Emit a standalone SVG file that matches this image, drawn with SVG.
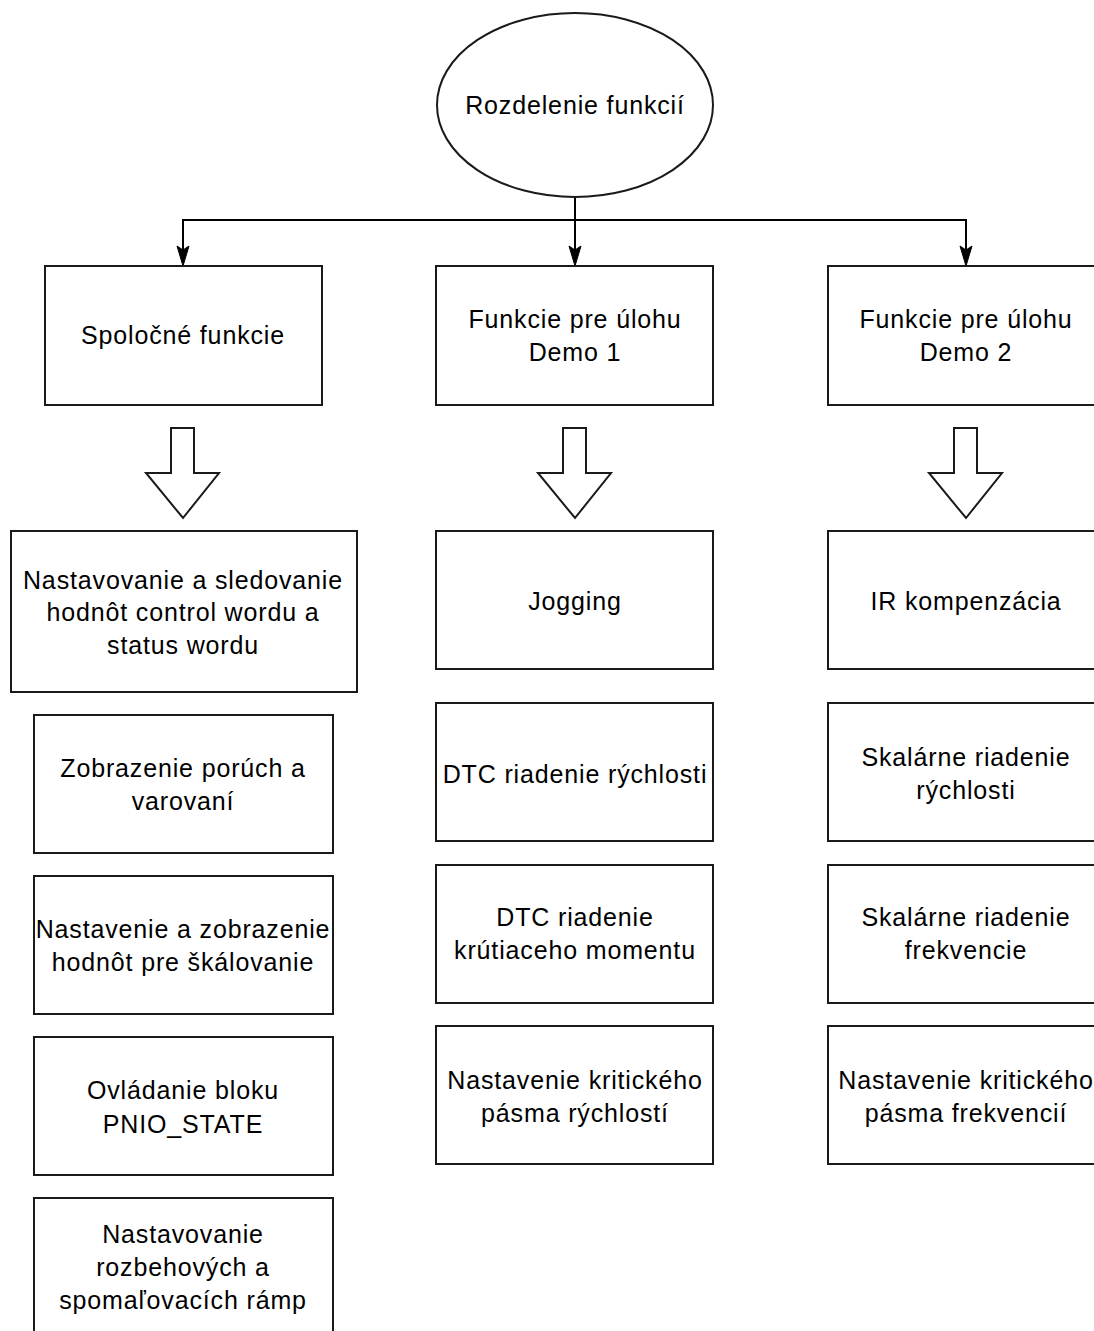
<svg xmlns="http://www.w3.org/2000/svg" width="1094" height="1331" viewBox="0 0 1094 1331">
<style>
.b{fill:#fff;stroke:#1a1a1a;stroke-width:2}
.t{font-family:"Liberation Sans",Arial,sans-serif;font-size:25px;letter-spacing:0.85px;fill:#000;text-anchor:middle}
.c{fill:none;stroke:#000;stroke-width:2}
.h{fill:#000;stroke:#000;stroke-width:1}
.ha{fill:#fff;stroke:#1a1a1a;stroke-width:2;stroke-linejoin:miter}
</style>
<rect width="1094" height="1331" fill="#fff"/>
<g id="connectors">
<path class="c" d="M575 197 V250 M575 220 H183 V250 M575 220 H966 V250"/>
<path class="h" d="M177 246 L183 266 L189 246 L183 250 Z"/>
<path class="h" d="M569 246 L575 266 L581 246 L575 250 Z"/>
<path class="h" d="M960 246 L966 266 L972 246 L966 250 Z"/>
<path class="ha" d="M171 428 H194 V473 H219 L183 518 L146 473 H171 Z"/>
<path class="ha" d="M563 428 H586 V473 H611 L575 518 L538 473 H563 Z"/>
<path class="ha" d="M954 428 H977 V473 H1002 L966 518 L929 473 H954 Z"/>
</g>
<g id="root"><ellipse class="b" cx="575" cy="105" rx="138" ry="92"/><text class="t" x="575" y="114">Rozdelenie funkcií</text></g>
<g id="spolocne"><rect class="b" x="45" y="266" width="277" height="139"/><text class="t" x="183" y="344">Spoločné funkcie</text></g>
<g id="demo1"><rect class="b" x="436" y="266" width="277" height="139"/><text class="t" x="575" y="328">Funkcie pre úlohu</text><text class="t" x="575" y="361">Demo 1</text></g>
<g id="demo2"><rect class="b" x="828" y="266" width="277" height="139"/><text class="t" x="966" y="328">Funkcie pre úlohu</text><text class="t" x="966" y="361">Demo 2</text></g>
<g id="cw"><rect class="b" x="11" y="531" width="346" height="161"/><text class="t" x="183" y="589">Nastavovanie a sledovanie</text><text class="t" x="183" y="621">hodnôt control wordu a</text><text class="t" x="183" y="654">status wordu</text></g>
<g id="poruchy"><rect class="b" x="34" y="715" width="299" height="138"/><text class="t" x="183" y="777">Zobrazenie porúch a</text><text class="t" x="183" y="810">varovaní</text></g>
<g id="skalovanie"><rect class="b" x="34" y="876" width="299" height="138"/><text class="t" x="183" y="938">Nastavenie a zobrazenie</text><text class="t" x="183" y="971">hodnôt pre škálovanie</text></g>
<g id="pnio"><rect class="b" x="34" y="1037" width="299" height="138"/><text class="t" x="183" y="1099">Ovládanie bloku</text><text class="t" x="183" y="1133">PNIO_STATE</text></g>
<g id="rampy"><rect class="b" x="34" y="1198" width="299" height="150"/><text class="t" x="183" y="1243">Nastavovanie</text><text class="t" x="183" y="1276">rozbehových a</text><text class="t" x="183" y="1309">spomaľovacích rámp</text></g>
<g id="jogging"><rect class="b" x="436" y="531" width="277" height="138"/><text class="t" x="575" y="610">Jogging</text></g>
<g id="dtcr"><rect class="b" x="436" y="703" width="277" height="138"/><text class="t" x="575" y="783">DTC riadenie rýchlosti</text></g>
<g id="dtcm"><rect class="b" x="436" y="865" width="277" height="138"/><text class="t" x="575" y="926">DTC riadenie</text><text class="t" x="575" y="959">krútiaceho momentu</text></g>
<g id="kritr"><rect class="b" x="436" y="1026" width="277" height="138"/><text class="t" x="575" y="1089">Nastavenie kritického</text><text class="t" x="575" y="1122">pásma rýchlostí</text></g>
<g id="ir"><rect class="b" x="828" y="531" width="277" height="138"/><text class="t" x="966" y="610">IR kompenzácia</text></g>
<g id="skr"><rect class="b" x="828" y="703" width="277" height="138"/><text class="t" x="966" y="766">Skalárne riadenie</text><text class="t" x="966" y="799">rýchlosti</text></g>
<g id="skf"><rect class="b" x="828" y="865" width="277" height="138"/><text class="t" x="966" y="926">Skalárne riadenie</text><text class="t" x="966" y="959">frekvencie</text></g>
<g id="kritf"><rect class="b" x="828" y="1026" width="277" height="138"/><text class="t" x="966" y="1089">Nastavenie kritického</text><text class="t" x="966" y="1122">pásma frekvencií</text></g>
</svg>
